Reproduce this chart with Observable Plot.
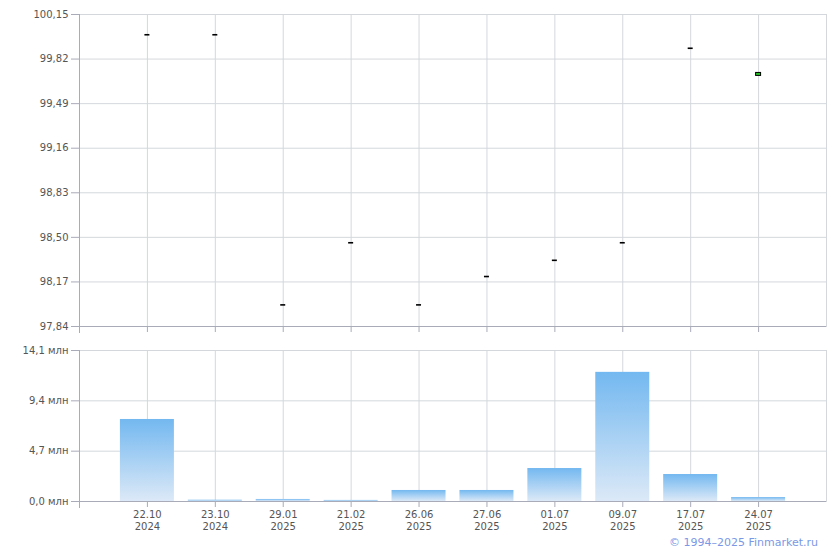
<!DOCTYPE html>
<html>
<head>
<meta charset="utf-8">
<script src="https://cdn.jsdelivr.net/npm/d3@7"></script>
<script src="https://cdn.jsdelivr.net/npm/@observablehq/plot@0.6"></script>
<style>
  html, body { margin: 0; padding: 0; background: #fff; }
  #chart { width: 840px; position: relative; font-family: "DejaVu Sans", Verdana, sans-serif; }
  #chart svg { display: block; }
  #copy { font-family: "DejaVu Sans", Verdana, sans-serif; font-size: 11px; color: #7b98e6; text-align: right; padding-right: 22px; line-height: 12px; margin-top: -1px; }
</style>
</head>
<body>
<div id="chart"></div>
<div id="copy">© 1994–2025 Finmarket.ru</div>
<script>
// ---- data ----
const dates = ["22.10.2024","23.10.2024","29.01.2025","21.02.2025","26.06.2025","27.06.2025","01.07.2025","09.07.2025","17.07.2025","24.07.2025"];
const prices = [100.00, 100.00, 98.00, 98.46, 98.00, 98.21, 98.33, 98.46, 99.90, 99.71];
const volumes = [7.66, 0.12, 0.19, 0.10, 1.03, 1.03, 3.08, 12.06, 2.52, 0.37]; // млн
const priceTicks = [97.84, 98.17, 98.50, 98.83, 99.16, 99.49, 99.82, 100.15];
const volumeTicks = [0, 4.7, 9.4, 14.1];

const rows = dates.map((d, i) => ({date: d, price: prices[i], volume: volumes[i], last: i === dates.length - 1}));

const GRID = "#d4d8dc";
const AXIS = "#a9abb8";
const LABEL = "#555555";
const comma = v => v.toFixed(2).replace(".", ",");

const xScale = {type: "band", domain: dates, paddingInner: 0.205, paddingOuter: 0.6025, align: 0.5, round: false};
const common = {width: 840, marginLeft: 79, marginRight: 14, style: {fontFamily: "DejaVu Sans, Verdana, sans-serif", fontSize: "10px", color: LABEL, background: "#fff"}};

const gradient = () => {
  const defs = d3.create("svg:defs");
  const g = defs.append("linearGradient").attr("id", "barGrad").attr("x1", 0).attr("y1", 0).attr("x2", 0).attr("y2", 1);
  g.append("stop").attr("offset", "0%").attr("stop-color", "#73b8f0");
  g.append("stop").attr("offset", "100%").attr("stop-color", "#dce9f7");
  return defs.node();
};

const pricePlot = Plot.plot({
  ...common,
  height: 340,
  marginTop: 14,
  marginBottom: 14,
  x: xScale,
  y: {domain: [97.84, 100.15]},
  marks: [
    Plot.frame({stroke: GRID}),
    Plot.gridY(priceTicks, {stroke: GRID, strokeOpacity: 1}),
    Plot.gridX({stroke: GRID, strokeOpacity: 1}),
    Plot.frame({anchor: "left", stroke: AXIS, insetBottom: -6}),
    Plot.ruleY([97.84], {stroke: AXIS}),
    Plot.axisY(priceTicks, {label: null, tickFormat: comma, tickSize: 8, tickPadding: 3, stroke: AXIS, fill: LABEL}),
    Plot.axisX({label: null, tickSize: 6, stroke: AXIS, tickFormat: () => ""}),
    Plot.tickY(rows.filter(d => !d.last), {x: "date", y: "price", stroke: "#000", strokeWidth: 1.6, insetLeft: 24.5, insetRight: 24.5}),
    Plot.tickY(rows.filter(d => d.last), {x: "date", y: "price", stroke: "#000", strokeWidth: 4, insetLeft: 24, insetRight: 24}),
    Plot.tickY(rows.filter(d => d.last), {x: "date", y: "price", stroke: "#22c422", strokeWidth: 2, insetLeft: 25, insetRight: 25})
  ]
});

const volumePlot = Plot.plot({
  ...common,
  height: 198,
  marginTop: 10,
  marginBottom: 37,
  x: xScale,
  y: {domain: [0, 14.1]},
  marks: [
    gradient,
    Plot.frame({stroke: GRID}),
    Plot.gridY(volumeTicks, {stroke: GRID, strokeOpacity: 1}),
    Plot.gridX({stroke: GRID, strokeOpacity: 1}),
    Plot.barY(rows, {x: "date", y: "volume", fill: "url(#barGrad)"}),
    Plot.frame({anchor: "left", stroke: AXIS, insetBottom: -6}),
    Plot.ruleY([0], {stroke: AXIS}),
    Plot.axisY(volumeTicks, {label: null, tickFormat: v => v.toFixed(1).replace(".", ",") + " млн", tickSize: 8, tickPadding: 3, stroke: AXIS, fill: LABEL}),
    Plot.axisX({label: null, tickSize: 6, tickPadding: 2, stroke: AXIS, fill: LABEL, lineHeight: 1.2,
      tickFormat: d => d.slice(0, 5) + "\n" + d.slice(6)})
  ]
});

document.getElementById("chart").append(pricePlot, volumePlot);
</script>
</body>
</html>
